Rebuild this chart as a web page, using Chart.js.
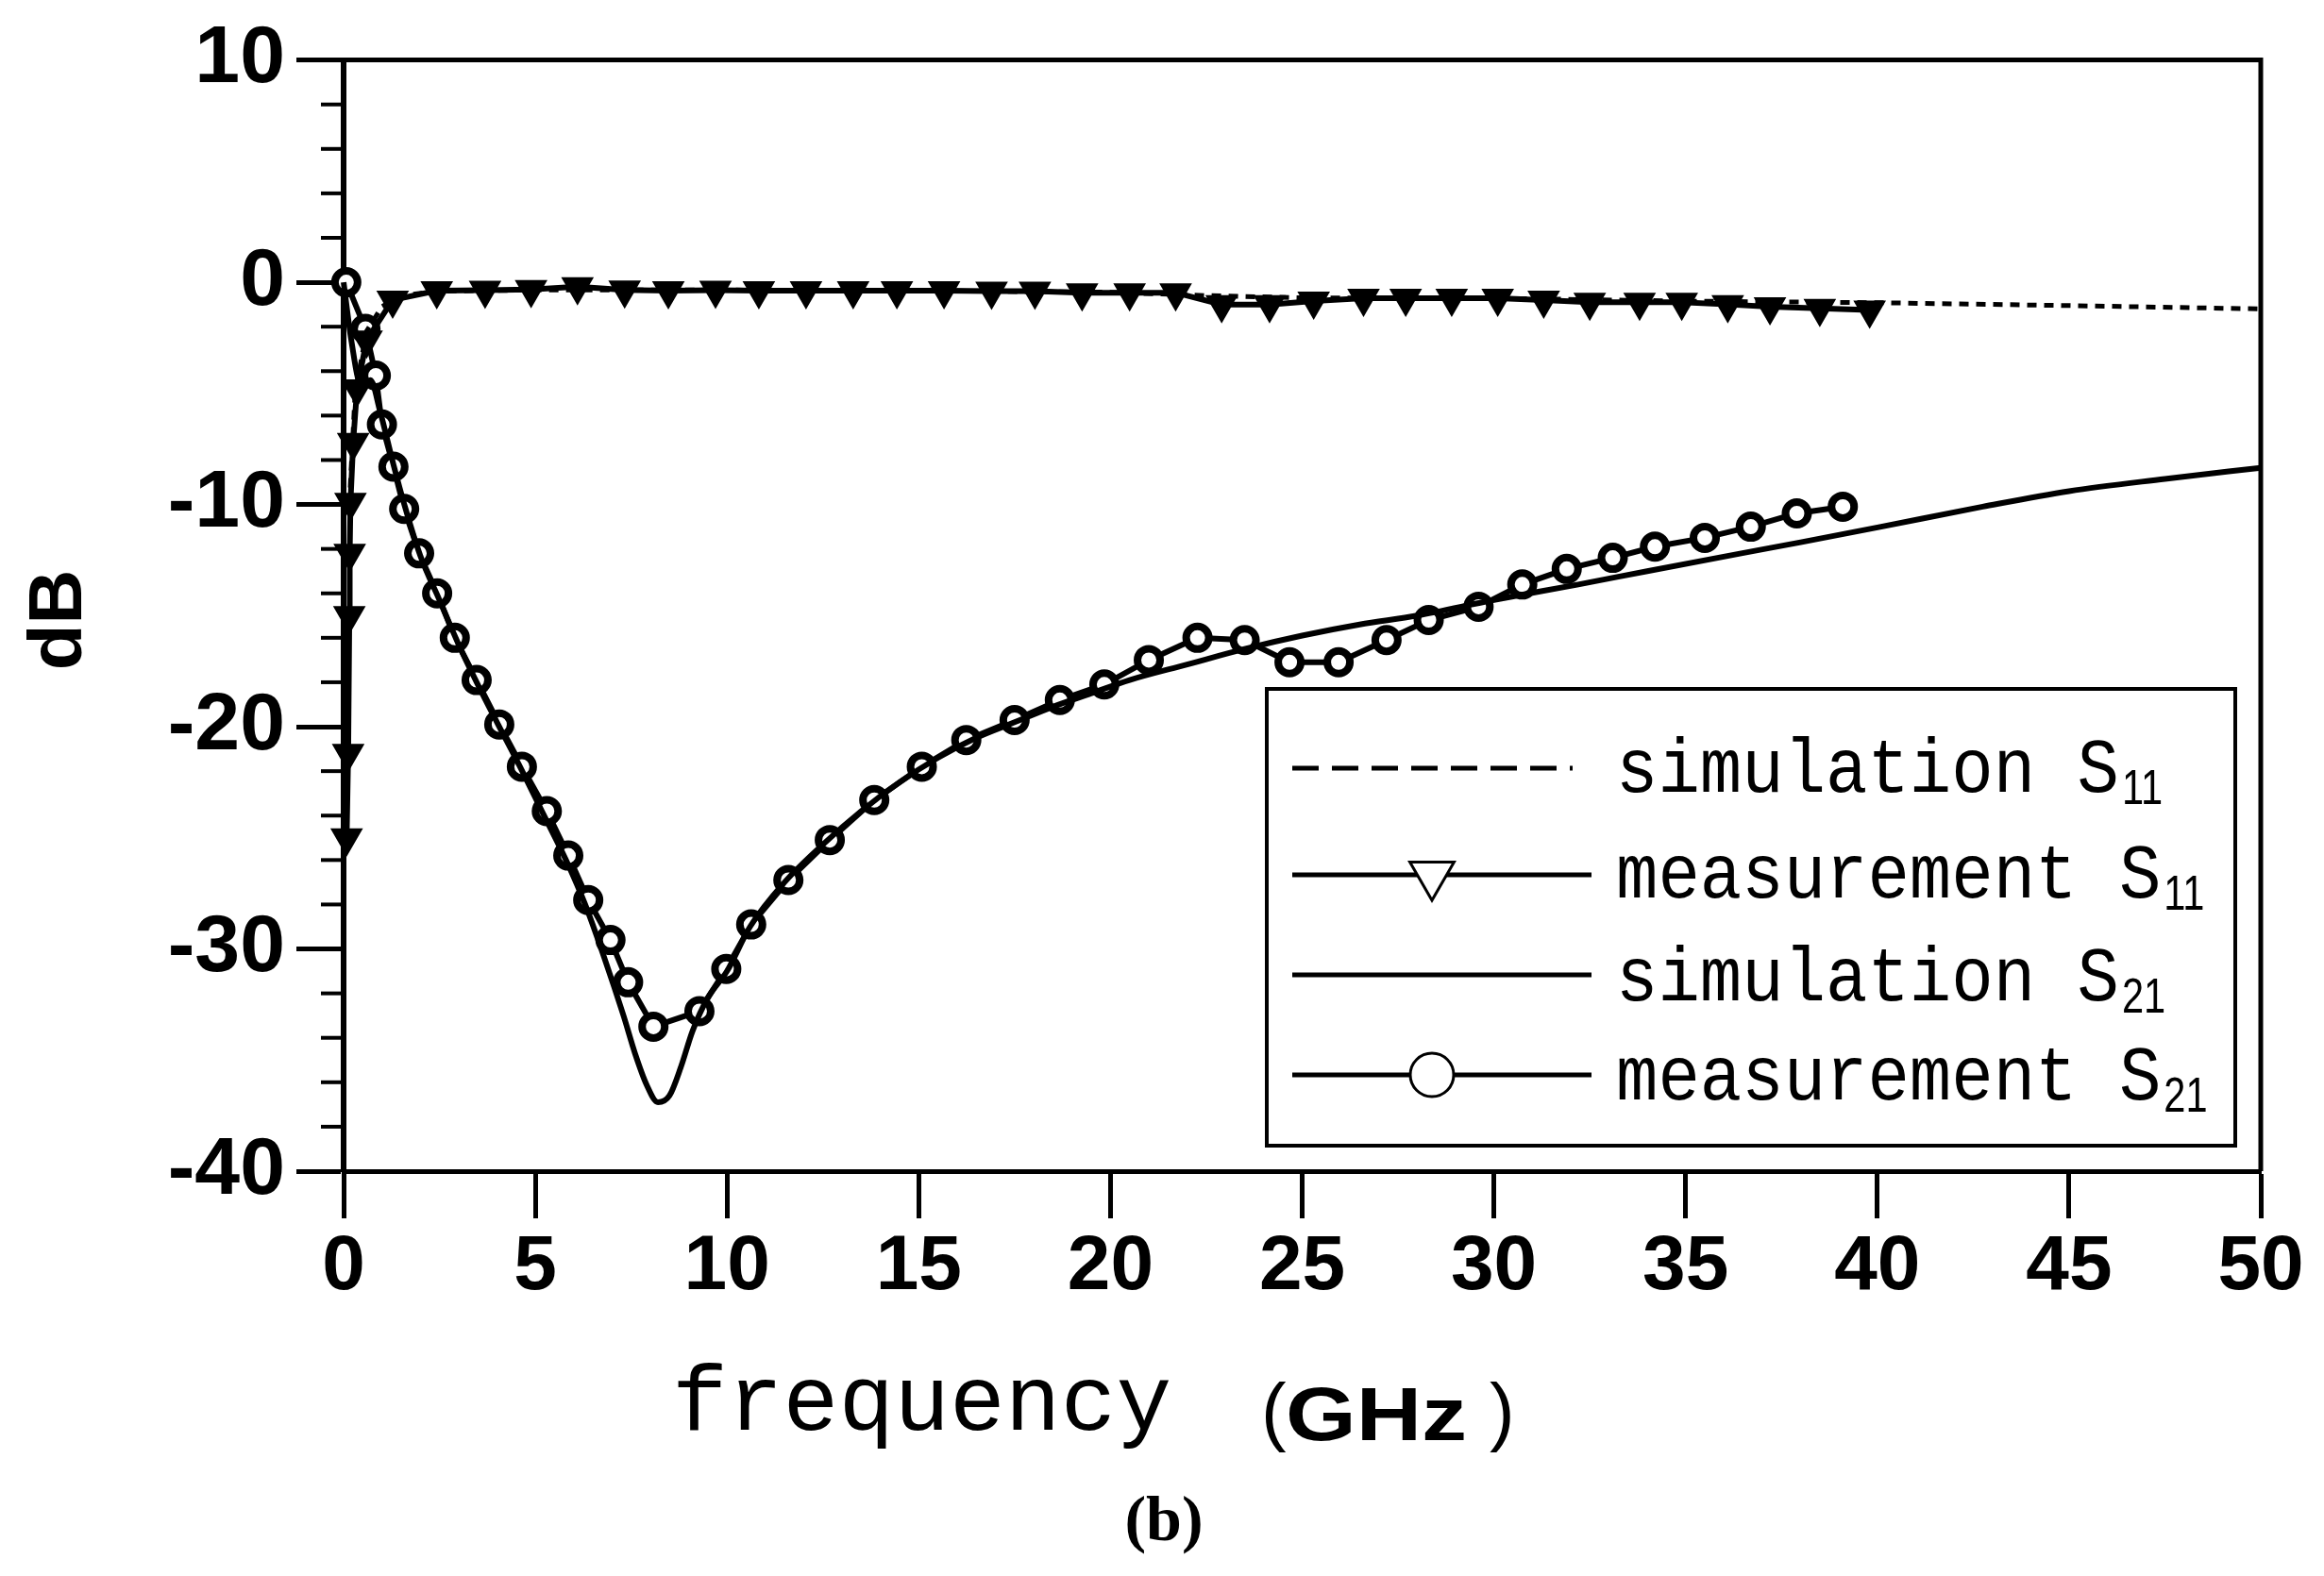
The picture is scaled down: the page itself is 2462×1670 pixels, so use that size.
<!DOCTYPE html>
<html>
<head>
<meta charset="utf-8">
<script src="https://cdn.jsdelivr.net/npm/chart.js@4.4.0/dist/chart.umd.min.js"></script>
<style>
html,body{margin:0;padding:0;background:#fff;}
#wrap{width:2462px;height:1670px;position:relative;}
</style>
</head>
<body>
<div id="wrap"><canvas id="c" width="2462" height="1670"></canvas></div>
<script>
// ---------- data ----------
const xMin = 0, xMax = 50, xStep = 5;
const yMin = -40, yMax = 10, yStep = 10, yMinorStep = 2;

const simS11Freq = [0.15, 0.3, 0.6, 1.0, 1.5, 2.5, 5, 10, 15, 20, 22.5, 25, 30, 35, 40, 45, 50];
const simS11Db   = [-10, -5, -2.2, -1.1, -0.6, -0.4, -0.35, -0.35, -0.38, -0.45, -0.6, -0.7, -0.72, -0.85, -0.92, -1.05, -1.2];

const measS11Freq = [0.08, 0.12, 0.15, 0.16, 0.18, 0.25, 0.35, 0.6, 1.28, 2.43, 3.69, 4.89, 6.1, 7.33, 8.47, 9.7, 10.83,
  12.06, 13.29, 14.43, 15.66, 16.9, 18.03, 19.26, 20.5, 21.7, 22.9, 24.15, 25.3, 26.6, 27.7, 28.9, 30.1, 31.3, 32.5,
  33.8, 34.9, 36.1, 37.2, 38.5, 39.8];
const measS11Db = [-25, -21.2, -15, -12.2, -9.9, -7.2, -4.8, -2.6, -0.8, -0.38, -0.36, -0.33, -0.2, -0.35, -0.38, -0.36, -0.38,
  -0.38, -0.38, -0.38, -0.38, -0.4, -0.4, -0.47, -0.47, -0.47, -1.0, -1.0, -0.85, -0.72, -0.72, -0.72, -0.72, -0.8, -0.9,
  -0.9, -0.9, -1.0, -1.1, -1.17, -1.25];

const simS21Freq = [0, 0.2, 0.45, 0.7, 0.95, 1.3, 1.6, 2.0, 2.5, 3.0, 3.5, 4.0, 4.6, 5.2, 5.8, 6.3, 6.8, 7.3, 7.6, 7.9, 8.2,
  8.5, 8.8, 9.1, 9.5, 10.0, 10.6, 11.5, 12.5, 13.5, 14.5, 15.5, 16.5, 17.5, 18.5, 19.5, 20.5, 22, 23.5, 25, 26.5, 28, 30,
  32.2, 34, 36.45, 38, 40.1, 42.75, 45, 47.5, 50];
const simS21Db = [0, -2.6, -4.6, -4.4, -5.8, -8.2, -10.1, -12.3, -14.3, -16.3, -18.1, -19.8, -21.8, -23.9, -26.0, -28.0, -30.4,
  -33.0, -34.7, -36.1, -36.9, -36.6, -35.3, -33.7, -32.2, -31.0, -29.0, -27.0, -25.3, -23.8, -22.5, -21.4, -20.5, -19.8,
  -19.1, -18.5, -17.9, -17.2, -16.5, -15.9, -15.4, -15.0, -14.3, -13.6, -13.0, -12.2, -11.7, -11.0, -10.1, -9.4, -8.85, -8.35];

const measS21Freq = [0.07, 0.57, 0.84, 1.0, 1.3, 1.58, 1.97, 2.44, 2.9, 3.47, 4.06, 4.65, 5.3, 5.86, 6.38, 6.96, 7.42, 8.08,
  9.28, 9.98, 10.63, 11.6, 12.68, 13.84, 15.08, 16.24, 17.5, 18.68, 19.84, 21.0, 22.27, 23.5, 24.67, 25.95, 27.2, 28.3,
  29.6, 30.74, 31.9, 33.1, 34.2, 35.5, 36.7, 37.9, 39.1];
const measS21Db = [0, -2.1, -4.2, -6.4, -8.3, -10.2, -12.2, -14.0, -16.0, -17.9, -19.9, -21.8, -23.8, -25.8, -27.8, -29.6,
  -31.5, -33.5, -32.8, -30.9, -28.9, -26.9, -25.1, -23.3, -21.8, -20.6, -19.7, -18.8, -18.1, -17.0, -16.0, -16.1, -17.1,
  -17.1, -16.1, -15.2, -14.6, -13.6, -12.9, -12.4, -11.9, -11.5, -11.0, -10.4, -10.1];

const seriesNames = ['simulation', 'measurement', 'simulation', 'measurement'];
const seriesSubs = ['11', '11', '21', '21'];
const xTitleWord = 'frequency';
const xTitleUnit = 'GHz';
const yTitleText = 'dB';
const captionText = '(b)';

// ---------- build ----------
const pts = (f, d) => f.map((v, i) => ({x: v, y: d[i]}));

const datasets = [
  {label: seriesNames[0] + ' S' + seriesSubs[0], data: pts(simS11Freq, simS11Db), borderColor: '#000', borderWidth: 5,
   borderDash: [10, 8], pointRadius: 0, tension: 0, fill: false, clip: false},
  {label: seriesNames[1] + ' S' + seriesSubs[1], data: pts(measS11Freq, measS11Db), borderColor: '#000', borderWidth: 6,
   pointStyle: 'triangle', pointRotation: 180, pointRadius: 15, pointBorderWidth: 5, pointBorderColor: '#000',
   pointBackgroundColor: '#000', tension: 0, fill: false, clip: false},
  {label: seriesNames[2] + ' S' + seriesSubs[2], data: pts(simS21Freq, simS21Db), borderColor: '#000', borderWidth: 6,
   pointRadius: 0, cubicInterpolationMode: 'monotone', fill: false, clip: false},
  {label: seriesNames[3] + ' S' + seriesSubs[3], data: pts(measS21Freq, measS21Db), borderColor: '#000', borderWidth: 6,
   pointStyle: 'circle', pointRadius: 12, pointBorderWidth: 8, pointBorderColor: '#000',
   pointBackgroundColor: '#fff', tension: 0, fill: false, clip: false}
];

const legendStyle = [
  {dash: [28, 14], marker: null},
  {dash: [], marker: {pointStyle: 'triangle', rotation: 180, radius: 27, borderWidth: 3}},
  {dash: [], marker: null},
  {dash: [], marker: {pointStyle: 'circle', rotation: 0, radius: 23, borderWidth: 3}}
];

const decor = {
  id: 'decor',
  afterDraw(chart) {
    const {ctx, chartArea: a, scales: {x, y}} = chart;
    ctx.save();
    ctx.strokeStyle = '#000';
    ctx.fillStyle = '#000';
    ctx.setLineDash([]);
    // frame top and right
    ctx.lineWidth = 5;
    ctx.beginPath();
    ctx.moveTo(a.left - 2, a.top);
    ctx.lineTo(a.right, a.top);
    ctx.lineTo(a.right, a.bottom);
    ctx.stroke();
    // minor y ticks
    ctx.lineWidth = 4;
    for (let v = yMin; v <= yMax; v += yMinorStep) {
      if (v % yStep === 0) continue;
      const py = y.getPixelForValue(v);
      ctx.beginPath();
      ctx.moveTo(a.left - 24, py);
      ctx.lineTo(a.left, py);
      ctx.stroke();
    }
    // legend box
    const bx = 1342, by = 730, bw = 1026, bh = 484;
    ctx.lineWidth = 4;
    ctx.strokeRect(bx, by, bw, bh);
    const lineY = [814, 927, 1033, 1139];
    const baseY = [839, 951, 1060, 1165];
    for (let i = 0; i < 4; i++) {
      const st = legendStyle[i];
      ctx.lineWidth = 5;
      ctx.setLineDash(st.dash);
      ctx.beginPath();
      ctx.moveTo(1369, lineY[i]);
      ctx.lineTo(i === 0 ? 1666 : 1686, lineY[i]);
      ctx.stroke();
      ctx.setLineDash([]);
      if (st.marker) {
        ctx.fillStyle = '#fff';
        ctx.strokeStyle = '#000';
        ctx.lineWidth = st.marker.borderWidth;
        Chart.helpers.drawPoint(ctx, {pointStyle: st.marker.pointStyle, radius: st.marker.radius,
          rotation: st.marker.rotation, borderWidth: st.marker.borderWidth}, 1517, lineY[i]);
      }
      ctx.fillStyle = '#000';
      ctx.textAlign = 'left';
      ctx.textBaseline = 'alphabetic';
      const main = seriesNames[i] + ' S';
      ctx.save();
      ctx.translate(1712, baseY[i]);
      ctx.scale(1, 1.1);
      ctx.font = '74px "Liberation Mono", "DejaVu Sans Mono", monospace';
      ctx.fillText(main, 0, 0);
      const w = ctx.measureText(main).width;
      ctx.restore();
      ctx.save();
      ctx.translate(1712 + w + 3, baseY[i] + 13);
      ctx.scale(0.8, 1);
      ctx.font = '52px "Liberation Sans", Arial, sans-serif';
      ctx.fillText(seriesSubs[i], 0, 0);
      ctx.restore();
    }
    // x title
    ctx.textBaseline = 'alphabetic';
    ctx.textAlign = 'left';
    ctx.font = '98px "Liberation Mono", "DejaVu Sans Mono", monospace';
    ctx.fillText(xTitleWord, 712, 1515);
    ctx.font = '80px "Liberation Sans", Arial, sans-serif';
    ctx.fillText('(', 1336, 1522);
    ctx.fillText(')', 1578, 1522);
    ctx.save();
    ctx.translate(1362, 1526);
    ctx.scale(1.2, 1);
    ctx.font = 'bold 80px "Liberation Sans", Arial, sans-serif';
    ctx.fillText(xTitleUnit, 0, 0);
    ctx.restore();
    // caption
    ctx.textAlign = 'center';
    ctx.font = 'bold 68px "Liberation Serif", "Times New Roman", serif';
    ctx.fillText(captionText, 1233, 1632);
    // y title
    ctx.save();
    ctx.translate(64, 657);
    ctx.rotate(-Math.PI / 2);
    ctx.textAlign = 'center';
    ctx.textBaseline = 'middle';
    ctx.font = 'bold 80px "Liberation Sans", Arial, sans-serif';
    ctx.fillText(yTitleText, 0, 0);
    ctx.restore();
    ctx.restore();
  }
};

Chart.defaults.color = '#000';

new Chart(document.getElementById('c'), {
  type: 'line',
  data: {datasets},
  options: {
    responsive: false,
    animation: false,
    devicePixelRatio: 1,
    events: [],
    layout: {padding: {top: 61, right: 67, left: 0, bottom: 0}},
    plugins: {legend: {display: false}, tooltip: {enabled: false}, title: {display: false}},
    scales: {
      x: {
        type: 'linear', min: xMin, max: xMax,
        ticks: {stepSize: xStep, autoSkip: false, maxRotation: 0, padding: 3, color: '#000',
          font: {family: '"Liberation Sans", Arial, sans-serif', size: 82, weight: 'bold'}},
        grid: {drawOnChartArea: false, drawTicks: true, tickLength: 50, tickWidth: 5, tickColor: '#000'},
        border: {display: true, color: '#000', width: 5},
        afterFit: s => { s.height = 429; }
      },
      y: {
        type: 'linear', min: yMin, max: yMax,
        ticks: {stepSize: yStep, padding: 12, color: '#000',
          font: {family: '"Liberation Sans", Arial, sans-serif', size: 86, weight: 'bold'}},
        grid: {drawOnChartArea: false, drawTicks: true, tickLength: 50, tickWidth: 5, tickColor: '#000'},
        border: {display: true, color: '#000', width: 6},
        afterFit: s => { s.width = 364; }
      }
    }
  },
  plugins: [decor]
});
</script>
</body>
</html>
